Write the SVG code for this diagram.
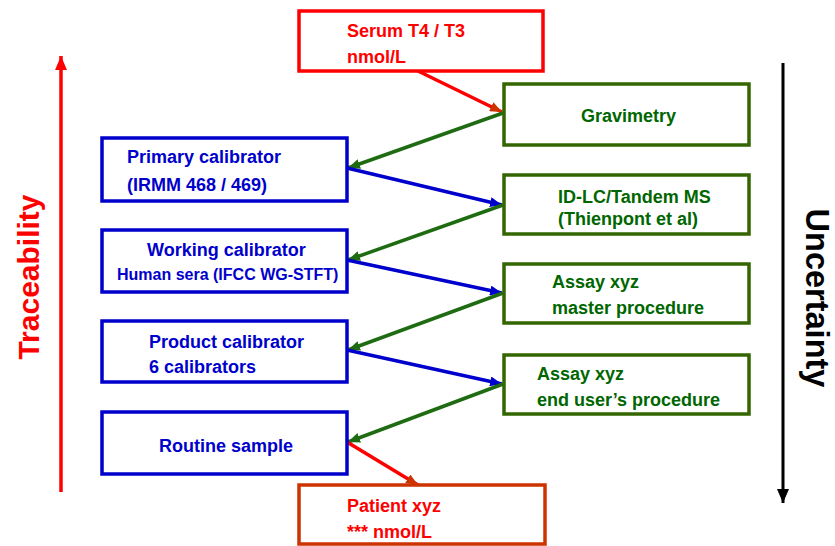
<svg xmlns="http://www.w3.org/2000/svg" width="835" height="546" viewBox="0 0 835 546">
  <style>
    text { font-family: "Liberation Sans", Arial, sans-serif; font-weight: bold; font-size: 18px; }
    .box { fill: #ffffff; stroke-width: 3.5; }
    .red-box { stroke: #ff0000; }
    .orange-box { stroke: #cc3300; }
    .blue-box { stroke: #0000cc; }
    .green-box { stroke: #336600; }
    .red-t { fill: #ff0000; }
    .blue-t { fill: #0000cc; }
    .green-t { fill: #006600; }
    .conn { fill: none; stroke-width: 3.5; }
  </style>
  <defs>
    <marker id="ah-red" markerUnits="userSpaceOnUse" markerWidth="12" markerHeight="10" refX="12" refY="5" orient="auto">
      <path d="M0,0 L12,5 L0,10 z" fill="#cc3300"/>
    </marker>
    <marker id="ah-green" markerUnits="userSpaceOnUse" markerWidth="12" markerHeight="10" refX="12" refY="5" orient="auto">
      <path d="M0,0 L12,5 L0,10 z" fill="#1e6b12"/>
    </marker>
    <marker id="ah-blue" markerUnits="userSpaceOnUse" markerWidth="12" markerHeight="10" refX="12" refY="5" orient="auto">
      <path d="M0,0 L12,5 L0,10 z" fill="#0000cc"/>
    </marker>
    <marker id="ah-axis-red" markerUnits="userSpaceOnUse" markerWidth="14" markerHeight="12" refX="14" refY="6" orient="auto">
      <path d="M0,0 L14,6 L0,12 z" fill="#ff0000"/>
    </marker>
    <marker id="ah-axis-black" markerUnits="userSpaceOnUse" markerWidth="14" markerHeight="12" refX="14" refY="6" orient="auto">
      <path d="M0,0 L14,6 L0,12 z" fill="#000000"/>
    </marker>
  </defs>

  <!-- side axes -->
  <g id="traceability-axis">
    <line x1="61" y1="492" x2="61" y2="56" stroke="#ff0000" stroke-width="3.5" marker-end="url(#ah-axis-red)"/>
    <text transform="translate(39,277) rotate(-90)" text-anchor="middle" style="font-size:30px" fill="#ff0000">Traceability</text>
  </g>
  <g id="uncertainty-axis">
    <line x1="783" y1="63" x2="783" y2="503" stroke="#000000" stroke-width="3" marker-end="url(#ah-axis-black)"/>
    <text transform="translate(806,298) rotate(90)" text-anchor="middle" style="font-size:32.5px">Uncertainty</text>
  </g>

  <!-- connectors -->
  <g id="connectors">
    <line class="conn" x1="418" y1="71" x2="502" y2="112" stroke="#ff0000" marker-end="url(#ah-red)"/>
    <line class="conn" x1="503" y1="113" x2="348" y2="168" stroke="#1e6b12" marker-end="url(#ah-green)"/>
    <line class="conn" x1="347" y1="168" x2="502" y2="205" stroke="#0000cc" marker-end="url(#ah-blue)"/>
    <line class="conn" x1="503" y1="205" x2="348" y2="260" stroke="#1e6b12" marker-end="url(#ah-green)"/>
    <line class="conn" x1="347" y1="260" x2="502" y2="293" stroke="#0000cc" marker-end="url(#ah-blue)"/>
    <line class="conn" x1="503" y1="293" x2="348" y2="350" stroke="#1e6b12" marker-end="url(#ah-green)"/>
    <line class="conn" x1="347" y1="350" x2="502" y2="384" stroke="#0000cc" marker-end="url(#ah-blue)"/>
    <line class="conn" x1="503" y1="384" x2="348" y2="442" stroke="#1e6b12" marker-end="url(#ah-green)"/>
    <line class="conn" x1="347" y1="442" x2="418" y2="485" stroke="#ff0000" marker-end="url(#ah-red)"/>
  </g>

  <!-- top and bottom red boxes -->
  <g id="serum">
    <rect class="box red-box" x="299" y="11" width="244" height="60"/>
    <text class="red-t" x="347" y="37">Serum T4 / T3</text>
    <text class="red-t" x="347" y="63">nmol/L</text>
  </g>
  <g id="patient">
    <rect class="box orange-box" x="299" y="485" width="246" height="59"/>
    <text class="red-t" x="347" y="512">Patient xyz</text>
    <text class="red-t" x="347" y="538">*** nmol/L</text>
  </g>

  <!-- calibrator hierarchy (left) -->
  <g id="primary-calibrator">
    <rect class="box blue-box" x="102" y="138" width="245" height="63"/>
    <text class="blue-t" x="127" y="163">Primary calibrator</text>
    <text class="blue-t" x="127" y="191">(IRMM 468 / 469)</text>
  </g>
  <g id="working-calibrator">
    <rect class="box blue-box" x="102" y="230" width="245" height="62"/>
    <text class="blue-t" x="147" y="256">Working calibrator</text>
    <text class="blue-t" x="117" y="280" style="font-size:16px">Human sera (IFCC WG-STFT)</text>
  </g>
  <g id="product-calibrator">
    <rect class="box blue-box" x="102" y="321" width="245" height="61"/>
    <text class="blue-t" x="149" y="348">Product calibrator</text>
    <text class="blue-t" x="149" y="373">6 calibrators</text>
  </g>
  <g id="routine-sample">
    <rect class="box blue-box" x="102" y="412" width="245" height="62"/>
    <text class="blue-t" x="159" y="452">Routine sample</text>
  </g>

  <!-- measurement procedures (right) -->
  <g id="gravimetry">
    <rect class="box green-box" x="504" y="84" width="245" height="61"/>
    <text class="green-t" x="581" y="122">Gravimetry</text>
  </g>
  <g id="id-lc-ms">
    <rect class="box green-box" x="504" y="175" width="245" height="59"/>
    <text class="green-t" x="558" y="203">ID-LC/Tandem MS</text>
    <text class="green-t" x="558" y="225">(Thienpont et al)</text>
  </g>
  <g id="assay-master">
    <rect class="box green-box" x="504" y="264" width="245" height="59"/>
    <text class="green-t" x="552" y="288">Assay xyz</text>
    <text class="green-t" x="552" y="314">master procedure</text>
  </g>
  <g id="assay-end-user">
    <rect class="box green-box" x="504" y="355" width="245" height="59"/>
    <text class="green-t" x="537" y="380">Assay xyz</text>
    <text class="green-t" x="537" y="406">end user’s procedure</text>
  </g>
</svg>
